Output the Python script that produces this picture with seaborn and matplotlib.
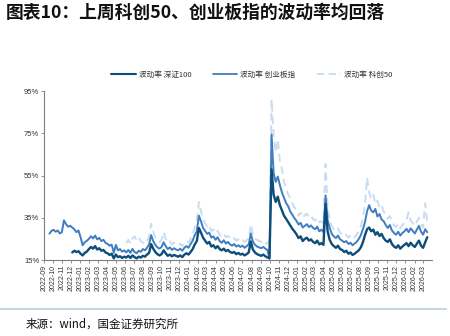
import matplotlib
matplotlib.use("Agg")
import matplotlib.pyplot as plt
import matplotlib.dates as mdates
from matplotlib.lines import Line2D
import seaborn as sns
import pandas as pd
import numpy as np

title = "图表10：上周科创50、创业板指的波动率均回落"
source = "来源：wind，国金证券研究所"
labels = ["波动率 深证100", "波动率 创业板指", "波动率 科创50"]
start_date = "2022-09-19"

# weekly readings (%), 创业板指 from 2022-09-19
chinext = [
    27.5, 28.8, 29.3, 28.4, 29.0, 27.6, 28.2,
    33.8, 32.0, 30.8, 31.2,
    30.4, 29.6, 28.2, 29.0,
    25.8, 22.0, 23.4, 24.1, 25.0,
    26.3, 25.2, 26.6, 24.8,
    25.5, 24.0, 24.6, 23.2,
    22.6, 21.8, 22.3, 18.4,
    22.2, 19.6, 20.2, 19.0, 19.6,
    18.6, 19.8, 18.4, 20.3,
    18.8, 18.2, 19.4, 18.9,
    20.2, 19.6, 20.8, 22.4, 26.8,
    24.0, 22.2, 21.0, 20.4,
    21.2, 23.4, 21.6, 20.2,
    21.0, 19.8, 20.6, 20.0, 19.6,
    20.4, 19.4, 20.8, 21.6,
    20.8, 22.6, 24.2, 26.8, 28.6,
    36.0, 33.4, 30.2, 28.8,
    27.4, 28.0, 25.6, 26.2,
    24.6, 25.8, 24.0, 23.2,
    24.4, 22.8, 23.6, 22.4, 21.8,
    22.6, 21.4, 22.0, 21.2,
    21.8, 20.8, 21.6, 22.4,
    27.6, 23.8, 22.2, 21.4, 21.0,
    20.6, 21.2, 20.4, 19.8,
    15.4,
    74.5, 56.0, 52.0, 54.5,
    50.5, 47.0, 44.5, 42.0,
    40.5, 38.0, 36.5, 34.8,
    33.6, 31.8, 32.6, 30.4, 31.2,
    32.0, 30.6, 31.4, 30.2,
    29.6, 30.8, 28.6, 29.4, 28.2,
    45.6, 34.0, 30.2, 27.4,
    26.2, 25.4, 26.6, 24.8,
    24.2, 23.4, 24.0, 22.6,
    23.2, 22.0, 22.8, 23.6, 25.0,
    26.8, 29.6, 33.0, 38.0,
    41.0, 38.4, 37.6, 39.2,
    35.6, 36.8, 34.2, 33.4, 31.6,
    30.2, 31.6, 29.0, 27.8,
    27.0, 28.4, 26.6, 27.8,
    28.6, 29.8, 28.2, 30.0, 28.8,
    27.6, 29.4, 31.2, 28.4,
    27.0, 29.6, 28.2,
]

# 深证100 from 2022-12-05
sz100 = [
    18.6, 19.4, 18.8, 19.2,
    18.0, 17.2, 18.4, 19.0, 20.2,
    21.2, 20.4, 21.6, 20.0,
    20.6, 19.4, 19.8, 18.6,
    18.2, 17.4, 18.0, 15.8,
    17.6, 16.4, 16.8, 16.0, 16.6,
    16.2, 17.0, 16.0, 17.2,
    16.4, 15.8, 16.6, 16.2,
    17.0, 16.6, 17.6, 18.4, 22.6,
    20.4, 18.8, 17.8, 17.2,
    17.8, 19.6, 18.2, 17.0,
    17.6, 16.8, 17.4, 17.0, 16.6,
    17.2, 16.4, 17.6, 18.2,
    17.6, 18.8, 20.2, 22.4, 24.0,
    30.2, 28.0, 25.6, 24.2,
    22.8, 23.6, 21.4, 22.0,
    20.6, 21.6, 20.2, 19.6,
    20.4, 19.2, 19.8, 18.8, 18.4,
    18.8, 17.8, 18.4, 17.6,
    18.0, 17.2, 17.8, 18.6,
    23.8, 20.0, 18.6, 17.8, 17.4,
    17.0, 17.6, 16.8, 16.2,
    16.0,
    58.0, 46.0, 42.5, 45.0,
    41.0, 38.5, 36.0, 34.5,
    33.0, 31.4, 29.8, 28.6,
    27.2, 25.4, 26.2, 24.0, 25.0,
    25.6, 24.2, 24.8, 23.6,
    23.0, 24.2, 22.4, 23.0, 22.2,
    41.5, 28.6, 24.6, 22.6,
    21.6, 20.8, 21.8, 20.2,
    19.8, 18.8, 19.4, 18.0,
    18.6, 17.4, 18.0, 18.8, 19.6,
    21.0, 23.4, 26.8, 29.6,
    30.4, 28.6, 29.4, 27.0,
    28.2, 26.4, 27.4, 25.4, 24.2,
    23.6, 24.8, 22.6, 21.4,
    20.8, 22.0, 20.4, 21.4,
    22.2, 23.0, 21.6, 23.2, 22.0,
    21.2, 22.8, 24.2, 21.8,
    20.8, 23.4, 25.8,
]

# 科创50 from 2023-06-05
star50 = [
    23.0, 24.6, 22.8, 25.2,
    26.2, 24.4, 25.8, 24.0,
    23.2, 22.6, 24.2, 26.0, 32.2,
    28.4, 25.6, 24.2, 23.4,
    24.6, 28.2, 25.0, 23.2,
    23.8, 22.4, 23.2, 22.6, 21.8,
    22.8, 21.6, 23.0, 24.0,
    23.2, 25.0, 27.0, 30.4, 33.6,
    42.5, 38.0, 34.6, 32.4,
    30.8, 31.6, 28.8, 29.4,
    27.6, 28.8, 27.0, 26.2,
    27.4, 25.8, 26.4, 25.2, 24.6,
    25.4, 24.2, 24.8, 23.8,
    24.6, 23.6, 24.4, 25.2,
    32.0, 27.0, 25.2, 24.6, 24.0,
    23.6, 24.4, 23.2, 22.8,
    24.0,
    91.0, 74.0, 66.0, 72.0,
    62.0, 58.0, 52.0, 49.0,
    46.0, 44.5, 42.0, 40.0,
    38.5, 36.0, 37.4, 35.0, 36.2,
    37.0, 35.2, 36.0, 34.4,
    33.6, 35.0, 32.8, 33.4, 32.2,
    60.5, 40.0, 34.0, 31.0,
    29.6, 28.8, 30.0, 28.0,
    27.4, 26.2, 27.0, 25.6,
    26.4, 25.0, 25.8, 27.0, 28.6,
    31.0, 35.0, 41.0, 54.0,
    47.0, 44.0, 46.0, 41.6,
    43.0, 39.8, 41.0, 38.0, 36.0,
    34.6, 35.8, 33.0, 31.4,
    30.6, 32.2, 30.0, 31.6,
    32.4, 34.0, 37.6, 33.8, 32.4,
    31.2, 33.4, 35.0, 32.0,
    30.4, 41.8, 33.0,
]

n = len(chinext)
dates = pd.date_range(start_date, periods=n, freq="7D")
def pad(vals):
    return [np.nan] * (n - len(vals)) + list(vals)

df = pd.DataFrame({"date": dates, labels[0]: pad(sz100),
                   labels[1]: chinext, labels[2]: pad(star50)})

sns.set_style("white")
plt.rcParams["font.family"] = ["Noto Sans CJK SC", "DejaVu Sans"]

fig = plt.figure(figsize=(4.5, 3.36), dpi=100)
ax = fig.add_axes([0.098, 0.226, 0.862, 0.503])

c_dark, c_mid, c_light = "#0D4D78", "#3F7DC0", "#C9DCF2"
sns.lineplot(data=df, x="date", y=labels[2], ax=ax, color=c_light,
             lw=1.4, linestyle=(0, (4, 2.5)), zorder=1)
sns.lineplot(data=df, x="date", y=labels[1], ax=ax, color=c_mid, lw=1.4, zorder=2)
sns.lineplot(data=df, x="date", y=labels[0], ax=ax, color=c_dark, lw=1.7, zorder=3)

ax.set_ylim(15, 95)
ax.set_yticks([15, 35, 55, 75, 95])
ax.set_yticklabels([f"{v}%" for v in [15, 35, 55, 75, 95]],
                   fontsize=5.5, family="Liberation Sans", color="#333333")
ticks = pd.date_range("2022-09-01", "2026-03-01", freq="MS")
ax.set_xticks(ticks)
ax.set_xticklabels([t.strftime("%Y-%m") for t in ticks], rotation=90,
                   fontsize=5, family="Liberation Sans", color="#333333")
ax.set_xlim(pd.Timestamp("2022-09-01"), pd.Timestamp("2026-04-01"))
ax.set_xlabel("")
ax.set_ylabel("")
for s in ["top", "right"]:
    ax.spines[s].set_visible(False)
for s in ["left", "bottom"]:
    ax.spines[s].set_color("#7F7F7F")
    ax.spines[s].set_linewidth(0.8)
ax.tick_params(axis="both", length=2, width=0.6, color="#7F7F7F", pad=1.5,
               bottom=True, left=True)

handles = [Line2D([], [], color=c_dark, lw=1.5),
           Line2D([], [], color=c_mid, lw=1.3),
           Line2D([], [], color=c_light, lw=1.3, linestyle=(0, (4, 2.5)))]
fig.legend(handles, labels, loc="center", bbox_to_anchor=(0.56, 0.777), ncol=3,
           frameon=False, fontsize=5.5, handlelength=3.2, columnspacing=2.8,
           handletextpad=0.4, labelcolor="#333333")

fig.text(0.012, 0.962, title, fontsize=12.8, fontweight="bold", style="italic",
         va="center", ha="left", color="#111111")
fig.add_artist(Line2D([0.0, 0.99], [0.080, 0.080], transform=fig.transFigure,
                      color="#C8D6E2", lw=1.5))
fig.text(0.056, 0.036, source, fontsize=8.3, va="center", ha="left", color="#111111")

fig.savefig("out.png", dpi=100)
